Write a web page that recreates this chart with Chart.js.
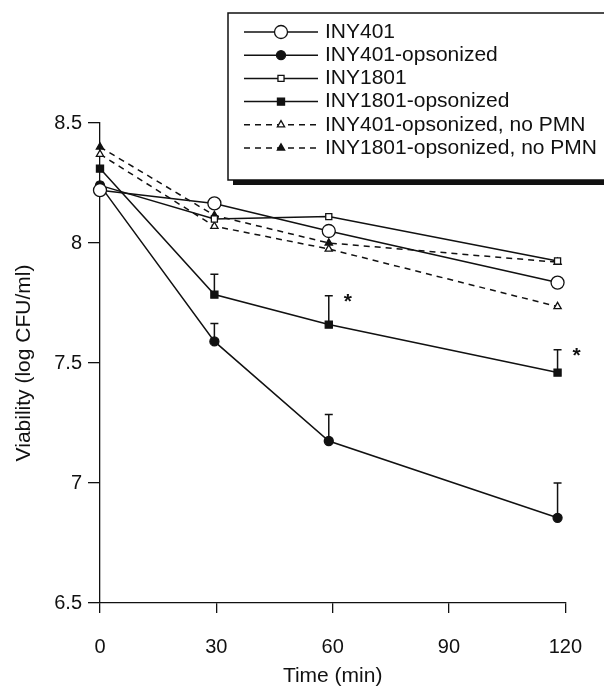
<!DOCTYPE html>
<html>
<head>
<meta charset="utf-8">
<title>Viability</title>
<script src="https://cdn.jsdelivr.net/npm/chart.js@4.4.1/dist/chart.umd.min.js"></script>
<style>
    html, body { margin: 0; padding: 0; background: #fff; }
    #chart { display: block; }
</style>
</head>
<body>
<canvas id="chart" width="604" height="689"></canvas>
<script>
const times = [0, 29.5, 59, 118];
const xTicks = [0, 30, 60, 90, 120];
const yTicks = [6.5, 7, 7.5, 8, 8.5];
const yTickLabels = ['6.5', '7', '7.5', '8', '8.5'];

const seriesNames = [
    'INY401',
    'INY401-opsonized',
    'INY1801',
    'INY1801-opsonized',
    'INY401-opsonized, no PMN',
    'INY1801-opsonized, no PMN'
];

const iny401 = [8.22, 8.165, 8.05, 7.835];
const iny401Ops = [8.24, 7.59, 7.175, 6.855];
const iny1801 = [8.24, 8.10, 8.11, 7.925];
const iny1801Ops = [8.31, 7.785, 7.66, 7.46];
const iny401NoPmn = [8.37, 8.07, 7.975, 7.735];
const iny1801NoPmn = [8.40, 8.115, 8.0, 7.92];

// top of the error bars, null = no bar
const iny401OpsErr = [null, 7.665, 7.285, 7.0];
const iny1801OpsErr = [null, 7.87, 7.78, 7.555];

// points of INY1801-opsonized that get an asterisk
const starPoints = [2, 3];

const INK = '#111';
const FONT = '"Liberation Sans", Arial, Helvetica, sans-serif';

function makeSet(label, values, pointStyle, radius, filled, dashed) {
    return {
        label: label,
        data: values.map((v, i) => ({ x: times[i], y: v })),
        borderColor: INK,
        borderWidth: 1.5,
        borderDash: dashed ? [6, 5] : [],
        pointStyle: pointStyle,
        pointRadius: radius,
        pointHoverRadius: radius,
        pointBorderWidth: 1.3,
        pointBorderColor: INK,
        pointBackgroundColor: filled ? INK : '#fff',
        tension: 0,
        fill: false,
        clip: false
    };
}

const datasets = [
    makeSet(seriesNames[0], iny401, 'circle', 6.5, false, false),
    makeSet(seriesNames[1], iny401Ops, 'circle', 4.5, true, false),
    makeSet(seriesNames[2], iny1801, 'rect', 4.3, false, false),
    makeSet(seriesNames[3], iny1801Ops, 'rect', 5, true, false),
    makeSet(seriesNames[4], iny401NoPmn, 'triangle', 4.2, false, true),
    makeSet(seriesNames[5], iny1801NoPmn, 'triangle', 4.2, true, true)
];

const errorBars = [
    { dataset: 1, tops: iny401OpsErr },
    { dataset: 3, tops: iny1801OpsErr }
];

const errorBarPlugin = {
    id: 'errorBars',
    beforeDatasetsDraw(chart) {
        const ctx = chart.ctx;
        const xs = chart.scales.x;
        const ys = chart.scales.y;
        ctx.save();
        ctx.strokeStyle = INK;
        ctx.lineWidth = 1.5;
        errorBars.forEach(bar => {
            const values = chart.data.datasets[bar.dataset].data;
            bar.tops.forEach((top, i) => {
                if (top === null) return;
                const px = xs.getPixelForValue(values[i].x);
                const py = ys.getPixelForValue(values[i].y);
                const pt = ys.getPixelForValue(top);
                ctx.beginPath();
                ctx.moveTo(px, py);
                ctx.lineTo(px, pt);
                ctx.moveTo(px - 4, pt);
                ctx.lineTo(px + 4, pt);
                ctx.stroke();
            });
        });
        ctx.restore();
    },
    afterDatasetsDraw(chart) {
        const ctx = chart.ctx;
        const xs = chart.scales.x;
        const ys = chart.scales.y;
        ctx.save();
        ctx.fillStyle = INK;
        ctx.font = 'bold 21px ' + FONT;
        ctx.textAlign = 'center';
        ctx.textBaseline = 'alphabetic';
        starPoints.forEach(i => {
            const px = xs.getPixelForValue(times[i]) + 19;
            const py = ys.getPixelForValue(iny1801OpsErr[i]);
            ctx.fillText('*', px, py + 12);
        });
        ctx.restore();
    }
};

const legendPlugin = {
    id: 'boxLegend',
    afterDraw(chart) {
        const ctx = chart.ctx;
        const boxLeft = 228;
        const boxTop = 13;
        const boxBottom = 180;
        ctx.save();
        // shadow, then the box
        ctx.fillStyle = INK;
        ctx.fillRect(boxLeft + 5, boxBottom, 400, 5);
        ctx.fillStyle = '#fff';
        ctx.fillRect(boxLeft, boxTop, 400, boxBottom - boxTop);
        ctx.strokeStyle = INK;
        ctx.lineWidth = 1.5;
        ctx.strokeRect(boxLeft, boxTop, 400, boxBottom - boxTop);

        ctx.font = '21px ' + FONT;
        ctx.textBaseline = 'middle';
        ctx.textAlign = 'left';
        chart.data.datasets.forEach((ds, i) => {
            const y = 32 + i * 23.2;
            ctx.strokeStyle = INK;
            ctx.lineWidth = 1.5;
            ctx.setLineDash(ds.borderDash);
            ctx.beginPath();
            ctx.moveTo(244, y);
            ctx.lineTo(318, y);
            ctx.stroke();
            ctx.setLineDash([]);
            ctx.fillStyle = ds.pointBackgroundColor;
            ctx.lineWidth = ds.pointBorderWidth;
            Chart.helpers.drawPoint(ctx, {
                pointStyle: ds.pointStyle,
                radius: ds.pointRadius,
                rotation: 0,
                borderWidth: ds.pointBorderWidth
            }, 281, y);
            ctx.fillStyle = INK;
            ctx.fillText(ds.label, 325, y);
        });
        ctx.restore();
    }
};

new Chart(document.getElementById('chart'), {
    type: 'line',
    data: { datasets: datasets },
    plugins: [errorBarPlugin, legendPlugin],
    options: {
        responsive: false,
        animation: false,
        events: [],
        layout: { padding: { top: 123, right: 24, left: 0, bottom: 0 } },
        plugins: {
            legend: { display: false },
            tooltip: { enabled: false }
        },
        scales: {
            x: {
                type: 'linear',
                min: 0,
                max: 120,
                afterBuildTicks: scale => { scale.ticks = xTicks.map(v => ({ value: v })); },
                afterFit: scale => { scale.height = 86; },
                border: { display: true, color: INK, width: 1.3 },
                grid: { drawOnChartArea: false, drawTicks: true, tickLength: 10, color: INK, lineWidth: 1.3 },
                ticks: { color: INK, font: { family: FONT, size: 20 }, padding: 22, maxRotation: 0 },
                title: {
                    display: true,
                    text: 'Time (min)',
                    color: INK,
                    font: { family: FONT, size: 21, lineHeight: 1.2 },
                    padding: { top: 0, bottom: 0 }
                }
            },
            y: {
                type: 'linear',
                min: 6.5,
                max: 8.5,
                afterBuildTicks: scale => { scale.ticks = yTicks.map(v => ({ value: v })); },
                afterFit: scale => { scale.width = 100; },
                border: { display: true, color: INK, width: 1.3 },
                grid: { drawOnChartArea: false, drawTicks: true, tickLength: 12, color: INK, lineWidth: 1.3 },
                ticks: {
                    color: INK,
                    font: { family: FONT, size: 20 },
                    padding: 6,
                    callback: (value, i) => yTickLabels[i]
                },
                title: {
                    display: true,
                    text: 'Viability (log CFU/ml)',
                    color: INK,
                    font: { family: FONT, size: 21, lineHeight: 1.2 },
                    padding: { top: 12, bottom: 0 }
                }
            }
        }
    }
});
</script>
</body>
</html>
